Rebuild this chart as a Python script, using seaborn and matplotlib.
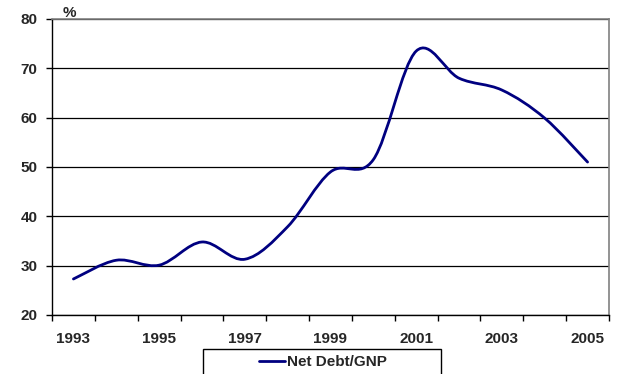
import numpy as np
import matplotlib
matplotlib.use("Agg")
import matplotlib.pyplot as plt
from matplotlib.path import Path
from matplotlib.patches import PathPatch, Rectangle
from matplotlib.lines import Line2D
import seaborn as sns

# Net debt as a share of GNP, one value per year
years = [1993, 1994, 1995, 1996, 1997, 1998, 1999,
         2000, 2001, 2002, 2003, 2004, 2005]
net_debt_gnp = [27.3, 31.1, 30.1, 34.8, 31.3, 37.9, 49.0,
                51.5, 73.5, 68.0, 65.6, 59.9, 51.0]
year_labels = [str(y) if (y - 1993) % 2 == 0 else "" for y in years]
y_ticks = [20, 30, 40, 50, 60, 70, 80]
series_name = "Net Debt/GNP"

sns.set_theme(style="white")
plt.rcParams["font.family"] = ["Liberation Sans", "DejaVu Sans"]
plt.rcParams["font.weight"] = "bold"

FS = 11
W, H = 623, 374
fig = plt.figure(figsize=(W / 100, H / 100), dpi=100)
ax = fig.add_axes([52 / W, 1 - 315 / H, (609 - 52) / W, (315 - 19) / H])

navy = "#000080"
pos = np.arange(len(years))
df_x = pos.astype(float)
df_y = np.array(net_debt_gnp, dtype=float)

# seaborn sets up the axes from the series; the visible curve is a smoothed
# cubic Bezier through the same points
sns.lineplot(x=df_x, y=df_y, ax=ax, color=navy, linewidth=2)
ax.lines[0].set_visible(False)

pts = np.column_stack([df_x, df_y])
ext = np.vstack([pts[0], pts, pts[-1]])
verts = [tuple(pts[0])]
codes = [Path.MOVETO]
for i in range(len(pts) - 1):
    p0, p1, p2, p3 = ext[i], ext[i + 1], ext[i + 2], ext[i + 3]
    c1 = p1 + (p2 - p0) / 6.0
    c2 = p2 - (p3 - p1) / 6.0
    verts += [tuple(c1), tuple(c2), tuple(p2)]
    codes += [Path.CURVE4] * 3
curve = PathPatch(Path(verts, codes), facecolor="none", edgecolor=navy,
                  linewidth=2.0, capstyle="round", joinstyle="round",
                  transform=ax.transData, zorder=3)
ax.add_patch(curve)

ax.set_xlim(-0.5, len(years) - 0.5)
ax.set_ylim(20, 80)

# category axis: ticks on the boundaries, labels on alternate years
ax.set_xticks(np.arange(-0.5, len(years), 1.0))
ax.set_xticklabels([])
ax.set_xticks(pos, minor=True)
ax.set_xticklabels(year_labels, minor=True, fontsize=FS, fontweight="bold")
ax.tick_params(axis="x", which="major", direction="out", length=4.5,
               width=1, color="black", bottom=True)
ax.tick_params(axis="x", which="minor", length=0, pad=12)

ax.set_yticks(y_ticks)
ax.set_yticklabels([str(v) for v in y_ticks], fontsize=FS, fontweight="bold")
ax.tick_params(axis="y", direction="out", length=4.5, width=1,
               color="black", left=True, pad=6)

ax.yaxis.grid(True, color="black", linewidth=0.9)
ax.xaxis.grid(False)
ax.set_axisbelow(True)

for side in ["left", "bottom"]:
    ax.spines[side].set_color("black")
    ax.spines[side].set_linewidth(1.0)
for side in ["top", "right"]:
    ax.spines[side].set_color("#808080")
    ax.spines[side].set_linewidth(1.2)
for sp in ax.spines.values():
    sp.set_zorder(2.6)
    sp.set_visible(True)

ax.set_xlabel("")
ax.set_ylabel("")

fig.text(69 / W, 1 - 13 / H, "%", fontsize=FS, fontweight="bold",
         ha="center", va="center")

# legend box sitting below the axis
fig.patches.append(Rectangle((203 / W, -0.05), (441 - 203) / W,
                             0.05 + 1 - 349 / H, transform=fig.transFigure,
                             facecolor="white", edgecolor="black",
                             linewidth=1.0))
handle = Line2D([], [], color=navy, linewidth=2)
fig.legend([handle], [series_name], loc="center left",
           bbox_to_anchor=(251 / W, 1 - 362.5 / H), frameon=False,
           handlelength=1.7, handletextpad=0.15, borderpad=0,
           prop={"size": FS, "weight": "bold"})

fig.savefig("out.png", dpi=100)
